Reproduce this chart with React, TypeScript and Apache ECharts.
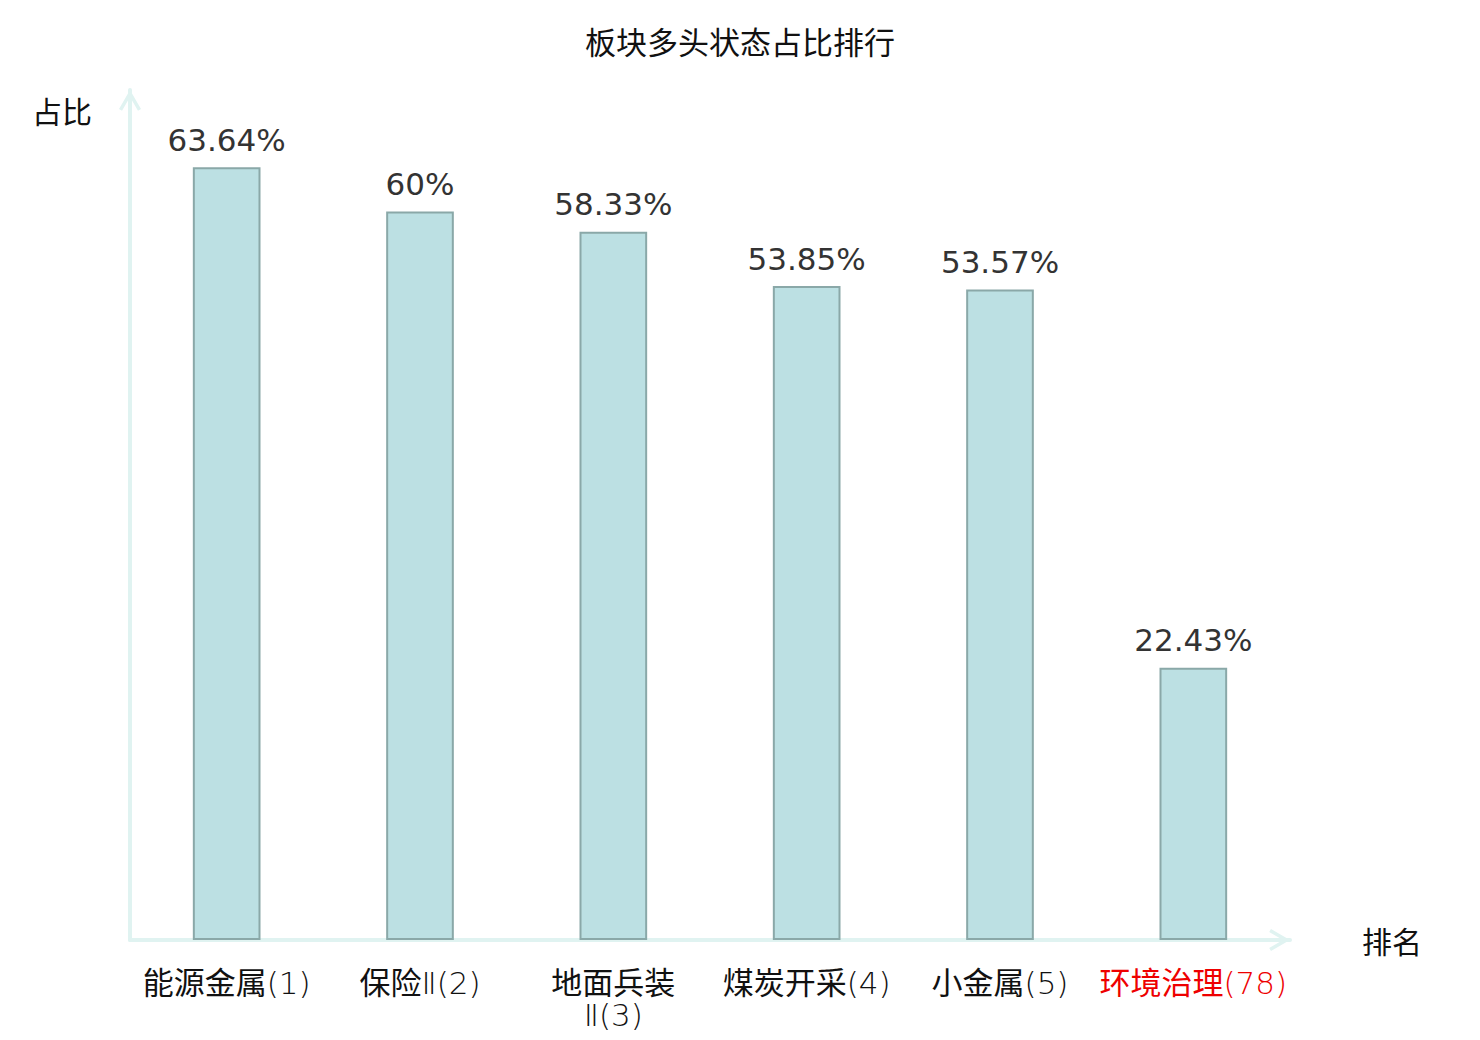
import React, { useEffect, useRef } from "react";
import * as echarts from "echarts";

const titleText = "板块多头状态占比排行";
const categories = ["能源金属(1)", "保险Ⅱ(2)", "地面兵装\nⅡ(3)", "煤炭开采(4)", "小金属(5)", "环境治理(78)"];
const values = [63.64, 60, 58.33, 53.85, 53.57, 22.43];
const highlightIndex = [5];
const yAxisName = "占比";
const xAxisName = "排名";

const chevron = "path://M11 0 L22 19 L18.97 20.75 L11 7 L3.03 20.75 L0 19 Z";

export default function App() {
  const ref = useRef<HTMLDivElement>(null);
  useEffect(() => {
    const chart = echarts.init(ref.current!, undefined, { renderer: "svg" });
    const axisLine = {
      show: true,
      symbol: ["none", chevron],
      symbolSize: [22, 20.75],
      symbolOffset: [0, -10.4],
      lineStyle: { color: "#e0f3f1", width: 4 },
    };
    chart.setOption({
      animation: false,
      backgroundColor: "#ffffff",
      title: {
        text: titleText,
        left: "center",
        top: 20,
        textStyle: { fontFamily: "Noto Sans CJK SC", fontSize: 31, fontWeight: "normal", color: "#111" },
      },
      grid: { left: 130, right: 190, top: 90, bottom: 100, containLabel: false },
      xAxis: {
        type: "category",
        data: categories,
        name: xAxisName,
        nameLocation: "end",
        nameGap: 72,
        nameTextStyle: { fontFamily: "Noto Sans CJK SC", fontSize: 30, color: "#111", verticalAlign: "middle" },
        axisLine,
        axisTick: { show: false },
        axisLabel: {
          interval: 0,
          margin: 27,
          fontFamily: "'DejaVu Sans Light', 'Noto Sans CJK SC'",
          fontWeight: "normal",
          fontSize: 31,
          lineHeight: 32,
          color: (_v: any, i: number) => (highlightIndex.includes(i) ? "#ee0000" : "#111"),
        },
      },
      yAxis: {
        type: "value",
        min: 0,
        max: 70,
        name: yAxisName,
        nameLocation: "end",
        nameGap: -20,
        nameTextStyle: {
          fontFamily: "Noto Sans CJK SC",
          fontSize: 30,
          color: "#111",
          align: "right",
          verticalAlign: "middle",
          padding: [0, 38, 0, 0],
        },
        axisLine,
        axisTick: { show: false },
        axisLabel: { show: false },
        splitLine: { show: false },
      },
      series: [
        {
          type: "bar",
          data: values,
          barWidth: "35%",
          itemStyle: { color: "#bce0e3", borderColor: "#8aa8a8", borderWidth: 2 },
          label: {
            show: true,
            position: "top",
            distance: 12,
            fontFamily: "DejaVu Sans",
            fontSize: 31,
            color: "#333",
            formatter: (p: any) => `${p.value}%`,
          },
        },
      ],
    });
    return () => chart.dispose();
  }, []);
  return <div ref={ref} style={{ position: "fixed", left: 0, top: 0, width: 1480, height: 1040 }} />;
}
